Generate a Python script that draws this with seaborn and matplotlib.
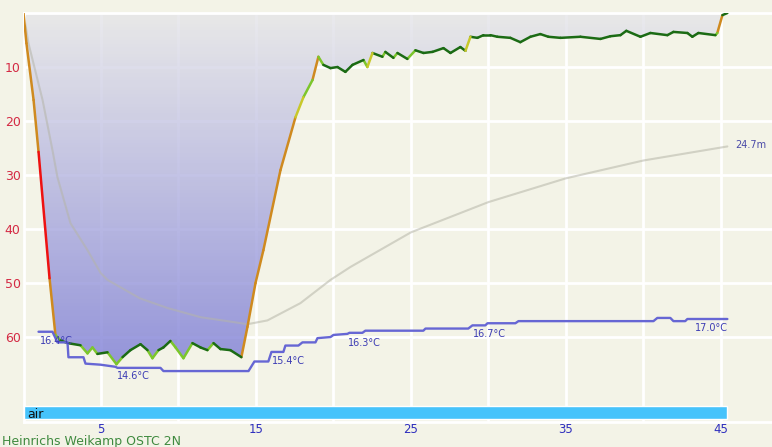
import numpy as np
import pandas as pd
import seaborn as sns
import matplotlib.pyplot as plt
from matplotlib.colors import LinearSegmentedColormap
from matplotlib.patches import Polygon

# dive profile (minutes, metres)
dive_time = [0.0, 0.19, 0.65, 0.97, 1.68, 2.06, 2.39, 2.84, 3.68, 4.13, 4.45, 4.77, 5.42, 6.0, 6.39,
             6.9, 7.55, 8.0, 8.32, 8.71, 9.03, 9.48, 9.81, 10.32, 10.9, 11.42, 11.87, 12.26, 12.71,
             13.35, 14.06, 14.45, 14.97, 15.48, 16.58, 17.55, 18.06, 18.65, 19.03, 19.35, 19.81,
             20.26, 20.77, 21.23, 21.94, 22.19, 22.52, 23.16, 23.35, 23.87, 24.13, 24.77, 25.29,
             25.81, 26.39, 27.1, 27.55, 28.19, 28.52, 28.84, 29.29, 29.68, 30.13, 30.58, 31.42,
             32.06, 32.71, 33.35, 33.87, 34.65, 35.94, 37.23, 37.87, 38.52, 38.9, 39.81, 40.45,
             41.55, 41.94, 42.84, 43.16, 43.55, 44.65, 44.77, 45.1, 45.42]
dive_depth = [0.0, 5.6, 16.1, 25.7, 49.1, 59.6, 60.6, 61.1, 61.5, 63.0, 61.9, 63.1, 62.8, 65.0, 63.7,
              62.4, 61.3, 62.4, 63.9, 62.4, 61.9, 60.7, 61.9, 63.9, 61.1, 61.9, 62.4, 61.1, 62.2,
              62.4, 63.7, 58.1, 50.0, 43.9, 29.1, 19.3, 15.6, 12.4, 8.1, 9.6, 10.2,
              10.0, 10.9, 9.6, 8.7, 10.0, 7.4, 8.1, 7.2, 8.3, 7.4, 8.5, 6.9,
              7.4, 7.2, 6.5, 7.4, 6.3, 7.0, 4.4, 4.6, 4.1, 4.1, 4.4, 4.6,
              5.4, 4.4, 3.9, 4.4, 4.6, 4.4, 4.8, 4.3, 4.1, 3.3, 4.4, 3.7,
              4.1, 3.5, 3.7, 4.4, 3.7, 4.1, 3.7, 0.4, 0.0]

# running mean depth
mean_time = [0, 0.32, 1.23, 1.87, 2.19, 3.03, 4.13, 4.97, 5.42, 7.5, 9.29, 11.42, 13.55, 14.45,
             15.74, 17.87, 19.81, 21.1, 25, 30, 35, 40, 45.42]
mean_depth = [0, 5.6, 16.1, 25.4, 30.4, 38.9, 43.9, 48.1, 49.4, 52.8, 54.6, 56.3, 57.2, 57.6,
              56.9, 53.7, 49.4, 47.0, 40.6, 35.0, 30.6, 27.3, 24.7]

# water temperature
temp_time = [0.97, 1.87, 2.19, 2.84, 2.90, 3.87, 4.0, 4.97, 5.94, 6.06, 8.84, 9.03, 14.52, 14.9,
             15.8, 16.0, 16.77, 16.9, 17.74, 18.0, 18.84, 18.97, 19.81, 20.0, 20.9, 21.03, 21.87,
             22.06, 25.8, 25.94, 28.7, 28.97, 29.8, 29.94, 31.74, 31.94, 40.65, 40.9, 41.74,
             41.94, 42.7, 42.84, 45.42]
temp_vals = [16.4, 16.4, 15.9, 15.9, 15.2, 15.2, 14.9, 14.85, 14.75, 14.7, 14.7, 14.55, 14.55, 15.0,
             15.0, 15.45, 15.45, 15.75, 15.75, 15.9, 15.9, 16.1, 16.15, 16.25, 16.3, 16.35, 16.35,
             16.45, 16.45, 16.55, 16.55, 16.7, 16.7, 16.8, 16.8, 16.9, 16.9, 17.05, 17.05,
             16.9, 16.9, 17.0, 17.0]

temp_labels = [(0.97, 16.4, '16.4°C'), (5.94, 14.75, '14.6°C'), (16.0, 15.45, '15.4°C'),
               (20.9, 16.3, '16.3°C'), (28.97, 16.7, '16.7°C'), (45.42, 17.0, '17.0°C')]

speed_colors = {'stable': '#1b6b14', 'slow': '#7cc62c', 'moderate': '#c8c82a',
                'fast': '#cf8a1f', 'crazy': '#ee1111'}


def speed_class(v):
    if v < 3:
        return 'stable'
    if v < 7:
        return 'slow'
    if v < 10:
        return 'moderate'
    if v < 31:
        return 'fast'
    return 'crazy'


rows = []
for i in range(len(dive_time) - 1):
    v = abs(dive_depth[i + 1] - dive_depth[i]) / (dive_time[i + 1] - dive_time[i])
    c = speed_class(v)
    rows.append(dict(t=dive_time[i], d=dive_depth[i], seg=i, speed=c))
    rows.append(dict(t=dive_time[i + 1], d=dive_depth[i + 1], seg=i, speed=c))
seg_df = pd.DataFrame(rows)

sns.set_theme(style="white")
plt.rcParams['font.family'] = ['DejaVu Sans']

bg = '#f3f3e7'
fig = plt.figure(figsize=(7.72, 4.47), dpi=100, facecolor=bg)
ax = fig.add_axes([23.5 / 772, 25 / 447, 748.5 / 772, 409 / 447])
ax.set_facecolor(bg)

# gradient fill above the profile
cmap = LinearSegmentedColormap.from_list('depthfill', ['#e6e6e9', '#7b7bd6'])
grad = np.linspace(0, 1, 256).reshape(-1, 1)
im = ax.imshow(grad, extent=[0, 46, 66, 0], aspect='auto', cmap=cmap, alpha=0.8,
               zorder=1, origin='upper')
verts = list(zip(dive_time, dive_depth)) + [(dive_time[-1], 0), (dive_time[0], 0)]
clip = Polygon(verts, closed=True, facecolor='none', edgecolor='none')
ax.add_patch(clip)
im.set_clip_path(clip)

sns.lineplot(x=mean_time, y=mean_depth, color='#b5b5a8', lw=1.5, alpha=0.55, ax=ax, zorder=2)
sns.lineplot(data=seg_df, x='t', y='d', hue='speed', units='seg', estimator=None, sort=False,
             palette=speed_colors, legend=False, lw=1.8, ax=ax, zorder=3, solid_capstyle='round')

ax.annotate('24.7m', (mean_time[-1], mean_depth[-1]), xytext=(6, 1), textcoords='offset points',
            fontsize=7, color='#4a4aa8', va='center')

# gas bar
ax.barh(74.0, dive_time[-1], height=2.4, left=0, color='#46c3fb', zorder=3)
ax.text(0.25, 74.4, 'air', va='center', fontsize=9, color='#111111', zorder=4)

ax.set_xlim(0, 48.3)
ax.set_ylim(75.7, 0)
ax.set_xticks([5, 15, 25, 35, 45])
ax.set_xticks([10, 20, 30, 40], minor=True)
ax.set_yticks([10, 20, 30, 40, 50, 60])
ax.set_axisbelow(True)
ax.grid(which='both', color='white', lw=2)
ax.tick_params(axis='x', which='both', length=0, pad=0.5, labelsize=8.5, labelcolor='#2e2ebe')
ax.tick_params(axis='y', length=0, pad=2, labelsize=9, labelcolor='#d42a44')
ax.set_xlabel('')
ax.set_ylabel('')
for side in ['left', 'bottom', 'top']:
    ax.spines[side].set_color('white')
    ax.spines[side].set_linewidth(2)
ax.spines['right'].set_visible(False)

# temperature on a hidden secondary scale
ax2 = ax.twinx()
ax2.set_ylim(12.153, 31.4)
sns.lineplot(x=temp_time, y=temp_vals, color='#6666d4', lw=1.7, ax=ax2, estimator=None, sort=False)
for t, v, s in temp_labels:
    ha = 'right' if s == '17.0°C' else 'left'
    ax2.annotate(s, (t, v), xytext=(0.7, -6.5), textcoords='offset points', fontsize=7,
                 color='#3c3cb4', ha=ha, va='center')
ax2.set_yticks([])
ax2.set_ylabel('')
for sp in ax2.spines.values():
    sp.set_visible(False)

fig.text(0.002, 6 / 447, 'Heinrichs Weikamp OSTC 2N', color='#3f8a3f', fontsize=9, va='center')

fig.savefig('out.png', dpi=100, facecolor=bg)
